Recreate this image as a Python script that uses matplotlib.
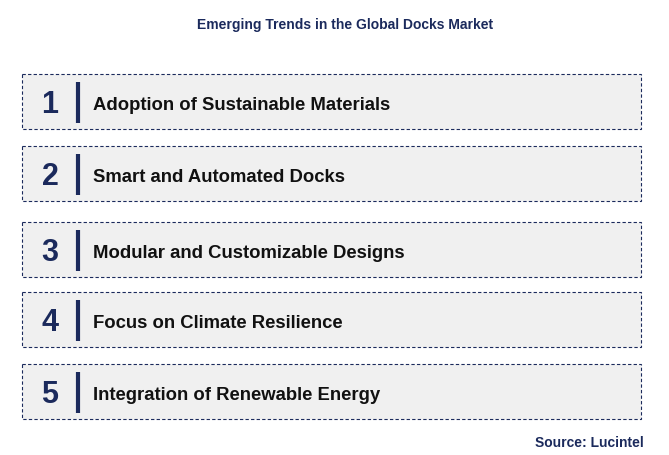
import matplotlib
matplotlib.use("Agg")
import matplotlib.pyplot as plt
from matplotlib.patches import Rectangle

title = "Emerging Trends in the Global Docks Market"
numbers = ["1", "2", "3", "4", "5"]
trends = ["Adoption of Sustainable Materials", "Smart and Automated Docks",
          "Modular and Customizable Designs", "Focus on Climate Resilience",
          "Integration of Renewable Energy"]
box_tops = [75, 147, 223, 293, 365]
source = "Source: Lucintel"

navy = "#1b2a5c"
fig = plt.figure(figsize=(6.69, 4.56), dpi=100)
ax = fig.add_axes([0, 0, 1, 1])
ax.set_xlim(0, 669); ax.set_ylim(456, 0); ax.axis("off")
fn = "Liberation Sans"
ax.text(345, 25, title, ha="center", va="center", fontsize=10, fontweight="bold", color=navy, family=fn)
for n, t, y in zip(numbers, trends, box_tops):
    h = 55
    ax.add_patch(Rectangle((22, y), 619, h, facecolor="#f0f0f0", edgecolor=navy,
                           linestyle=(0, (3, 2)), linewidth=0.8))
    ax.text(50, y + h/2 + 3, n, ha="center", va="center", fontsize=22, fontweight="bold", color=navy, family=fn)
    ax.plot([78, 78], [y + 8, y + h - 6], color=navy, linewidth=3, solid_capstyle="butt")
    ax.text(93, y + h/2 + 3, t, ha="left", va="center", fontsize=13.3, fontweight="bold", color="#111111", family=fn)
ax.text(644, 443, source, ha="right", va="center", fontsize=10, fontweight="bold", color=navy, family=fn)
fig.savefig("out.png", dpi=100)
